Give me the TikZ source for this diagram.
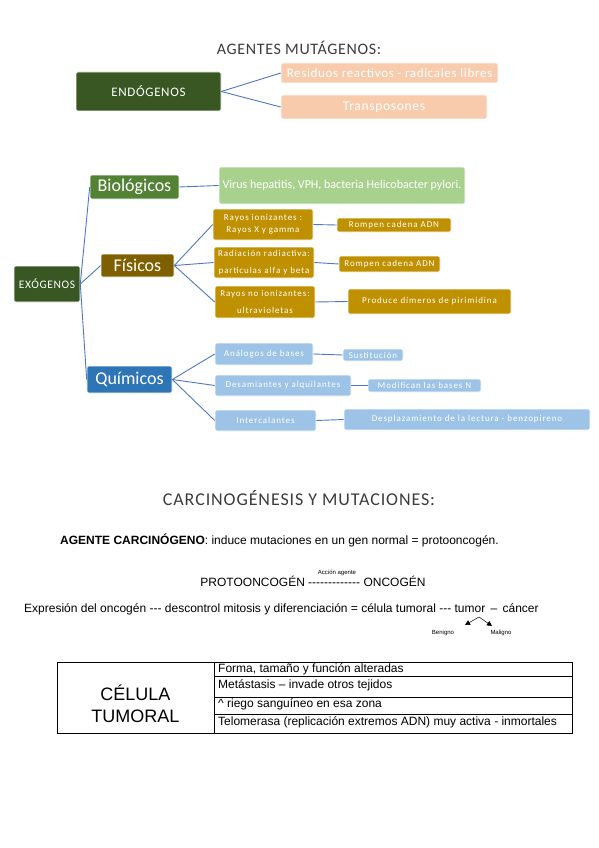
\documentclass[tikz,border=0pt]{standalone}
\usepackage{fontspec}
\setmainfont{Carlito}
\newfontfamily\arial{Liberation Sans}
\newfontfamily\calsp[LetterSpace=10]{Carlito}
\newfontfamily\calmid[LetterSpace=5]{Carlito}
\newfontfamily\caltitle[LetterSpace=4]{Carlito}
\usetikzlibrary{arrows.meta}
\definecolor{dkgreen}{HTML}{385723}
\definecolor{midgreen}{HTML}{548235}
\definecolor{ltgreen}{HTML}{A9D18E}
\definecolor{peach}{HTML}{F8CBAD}
\definecolor{dkgold}{HTML}{7F6000}
\definecolor{gold}{HTML}{BF9000}
\definecolor{qblue}{HTML}{2E75B6}
\definecolor{ltblue}{HTML}{9DC3E6}
\definecolor{linkblue}{HTML}{4F78C4}
\definecolor{titlegray}{HTML}{3C3C3C}
\tikzset{
  box/.style={rounded corners=2pt, draw=white, line width=0.6pt, inner sep=0pt, align=center, text=white},
  conn/.style={draw=linkblue, line width=0.9pt},
  small/.style={font=\calsp\fontsize{9}{11}\selectfont},
  title/.style={font=\caltitle\fontsize{16}{18}\selectfont, text=titlegray, inner sep=0pt},
  atext/.style={font=\arial\fontsize{12}{14}\selectfont, inner sep=0pt, text=black},
  rowtext/.style={font=\arial\fontsize{12}{14}\selectfont, inner sep=0pt, text=black, anchor=west},
  tiny/.style={font=\arial\fontsize{6}{7}\selectfont, inner sep=0pt, text=black}
}
\begin{document}
\begin{tikzpicture}[x=1pt,y=-1pt]
\useasboundingbox[fill=white] (0,0) rectangle (599,848);

% ---------- Section 1 ----------
\node[title] (t1) at (299,48) {AGENTES MUTÁGENOS:};

\node[box, fill=dkgreen, minimum width=145pt, minimum height=39pt, font=\calmid\fontsize{13}{15}\selectfont] (endo) at (148.5,91.5) {ENDÓGENOS};
\node[box, fill=peach, minimum width=217pt, minimum height=20pt, font=\calmid\fontsize{13}{15}\selectfont] (res) at (389.5,73) {Residuos reactivos - radicales libres};
\node[box, fill=peach, minimum width=206pt, minimum height=24pt, font=\calmid\fontsize{13.5}{15}\selectfont] (trans) at (384,107) {Transposones};
\draw[conn] (endo.east) -- (res.west);
\draw[conn] (endo.east) -- (trans.west);

% EXÓGENOS tree
\node[box, fill=dkgreen, minimum width=66pt, minimum height=36pt, font=\calmid\fontsize{11.5}{13}\selectfont] (exo) at (47,284) {EXÓGENOS};
\node[box, fill=midgreen, minimum width=89pt, minimum height=24pt, font=\fontsize{18}{20}\selectfont] (bio) at (134.5,187) {Biológicos};
\node[box, fill=dkgold, minimum width=73pt, minimum height=23pt, font=\fontsize{18}{20}\selectfont] (fis) at (137.5,265.5) {Físicos};
\node[box, fill=qblue, minimum width=85pt, minimum height=27pt, font=\fontsize{18}{20}\selectfont] (qui) at (129.5,379.5) {Químicos};
\draw[conn] (exo.east) -- (bio.west);
\draw[conn] (exo.east) -- (fis.west);
\draw[conn] (exo.east) -- (qui.west);

% Biológicos
\node[box, fill=ltgreen, minimum width=246pt, minimum height=37pt, font=\fontsize{12}{14}\selectfont] (virus) at (342,185.5) {Virus hepatitis, VPH, bacteria Helicobacter pylori.};
\draw[conn] (bio.east) -- (virus.west);

% Físicos
\node[box, fill=gold, minimum width=100pt, minimum height=31pt, font=\calsp\fontsize{9}{12}\selectfont] (ri) at (263,224.5) {Rayos ionizantes :\\Rayos X y gamma};
\node[box, fill=gold, minimum width=114pt, minimum height=14pt, small] (rc1) at (394,225) {Rompen cadena ADN};
\node[box, fill=gold, minimum width=100pt, minimum height=31pt, font=\calsp\fontsize{9}{17}\selectfont] (rr) at (264,262.5) {Radiación radiactiva:\\partículas alfa y beta};
\node[box, fill=gold, minimum width=101pt, minimum height=16pt, small] (rc2) at (389.5,264) {Rompen cadena ADN};
\node[box, fill=gold, minimum width=100pt, minimum height=32pt, font=\calsp\fontsize{9}{17}\selectfont] (rn) at (265,302) {Rayos no ionizantes:\\ultravioletas};
\node[box, fill=gold, minimum width=163pt, minimum height=25pt, small] (pd) at (429.5,301.5) {Produce dímeros de pirimidina};
\draw[conn] (fis.east) -- (ri.west);
\draw[conn] (fis.east) -- (rr.west);
\draw[conn] (fis.east) -- (rn.west);
\draw[conn] (ri.east) -- (rc1.west);
\draw[conn] (rr.east) -- (rc2.west);
\draw[conn] (rn.east) -- (pd.west);

% Químicos
\node[box, fill=ltblue, minimum width=98pt, minimum height=22pt, small] (ab) at (264,354) {Análogos de bases};
\node[box, fill=ltblue, minimum width=60pt, minimum height=12pt, small] (sus) at (373,355) {Sustitución};
\node[box, fill=ltblue, minimum width=136pt, minimum height=21pt, small] (da) at (283,385.5) {Desamiantes y alquilantes};
\node[box, fill=ltblue, minimum width=113pt, minimum height=13pt, small] (mb) at (424.5,385.5) {Modifican las bases N};
\node[box, fill=ltblue, minimum width=101pt, minimum height=21pt, small] (ic) at (265.5,420.5) {Intercalantes};
\node[box, fill=ltblue, minimum width=246pt, minimum height=21pt, small] (dl) at (467,419.5) {Desplazamiento de la lectura - benzopireno};
\draw[conn] (qui.east) -- (ab.west);
\draw[conn] (qui.east) -- (da.west);
\draw[conn] (qui.east) -- (ic.west);
\draw[conn] (ab.east) -- (sus.west);
\draw[conn] (da.east) -- (mb.west);
\draw[conn] (ic.east) -- (dl.west);

% ---------- Section 2 ----------
\node[title, font=\calmid\fontsize{18}{20}\selectfont] (t2) at (299,498) {CARCINOGÉNESIS Y MUTACIONES:};

\node[atext, anchor=west] (agente) at (60,540) {\textbf{AGENTE CARCINÓGENO}: induce mutaciones en un gen normal = protooncogén.};

\node[tiny] (accion) at (337,573) {Acción agente};
\node[atext] (proto) at (313,581) {PROTOONCOGÉN ------------- ONCOGÉN};

\node[atext, anchor=west] (expr) at (24,609) {Expresión del oncogén --- descontrol mitosis y diferenciación = célula tumoral --- tumor\hspace{2pt} – \hspace{2pt}cáncer};

\coordinate (tumortop) at (479,617);
\node[tiny] (ben) at (443,633) {Benigno};
\node[tiny] (mal) at (501,633) {Maligno};
\coordinate (bentip) at (465,625);
\coordinate (maltip) at (492,626);
\draw[-{Triangle[length=5pt,width=5pt]}, line width=0.5pt] (tumortop) -- (bentip);
\draw[-{Triangle[length=5pt,width=5pt]}, line width=0.5pt] (tumortop) -- (maltip);

% Table
\draw[line width=0.6pt] (57,662) rectangle (572,733);
\draw[line width=0.6pt] (214,662) -- (214,733);
\draw[line width=0.6pt] (214,676) -- (572,676);
\draw[line width=0.6pt] (214,697) -- (572,697);
\draw[line width=0.6pt] (214,714) -- (572,714);
\node[font=\arial\fontsize{18}{22}\selectfont, align=center, inner sep=0pt] (cel) at (135.5,704) {CÉLULA\\TUMORAL};
\node[rowtext] (r1) at (218,669) {Forma, tamaño y función alteradas};
\node[rowtext] (r2) at (218,685) {Metástasis – invade otros tejidos};
\node[rowtext] (r3) at (218,704) {\^{} riego sanguíneo en esa zona};
\node[rowtext] (r4) at (218,722) {Telomerasa (replicación extremos ADN) muy activa - inmortales};
\end{tikzpicture}
\end{document}
